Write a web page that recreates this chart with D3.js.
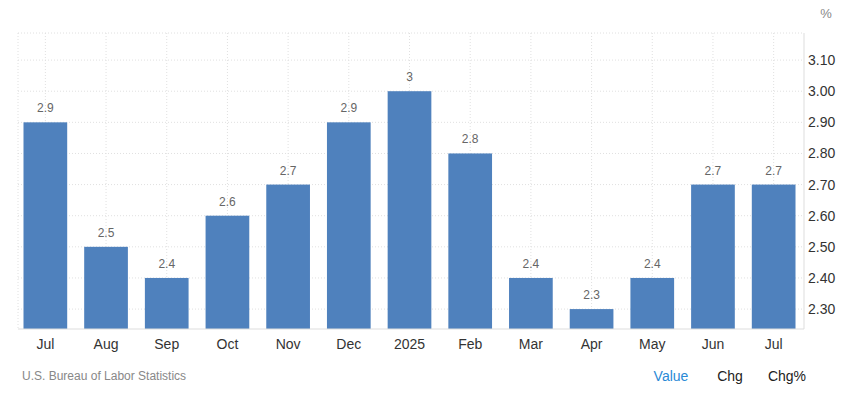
<html>
<head>
<style>
  body { margin: 0; background: #fff; font-family: Arial, "Liberation Sans", sans-serif; }
  .grid line { stroke: #e0e0e0; stroke-dasharray: 1,2; }
</style>
</head>
<body>
<svg id="chart" width="841" height="403"></svg>
<script src="https://cdn.jsdelivr.net/npm/d3@7"></script>
<script>
  // data
  let months = ["Jul", "Aug", "Sep", "Oct", "Nov", "Dec", "2025", "Feb", "Mar", "Apr", "May", "Jun", "Jul2"]
  let values = [2.9, 2.5, 2.4, 2.6, 2.7, 2.9, 3.0, 2.8, 2.4, 2.3, 2.4, 2.7, 2.7]
  let tickValues = [2.3, 2.4, 2.5, 2.6, 2.7, 2.8, 2.9, 3.0, 3.1]
  let buttons = ["Value", "Chg", "Chg%"]

  let svg = d3.select("#chart")
  let plotLeft = 15, plotRight = 804, plotTop = 33, plotBottom = 329

  let x = d3.scaleBand().domain(months).range([plotLeft, plotRight]).paddingInner(0.28).paddingOuter(0.14)
  let y = d3.scaleLinear().domain([2.236, 3.187]).range([plotBottom, plotTop])

  let grid = svg.append("g").attr("class", "grid")
  grid.selectAll("line.h").data(tickValues.concat([3.187])).enter().append("line")
    .attr("x1", 18).attr("x2", plotRight)
    .attr("y1", d => y(d)).attr("y2", d => y(d))
  grid.selectAll("line.v").data(months).enter().append("line")
    .attr("x1", d => x(d) + x.bandwidth() / 2).attr("x2", d => x(d) + x.bandwidth() / 2)
    .attr("y1", plotTop).attr("y2", plotBottom)
  grid.append("line").attr("x1", 18).attr("x2", 18).attr("y1", plotTop).attr("y2", plotBottom)

  svg.selectAll("rect.bar").data(values).enter().append("rect")
    .attr("class", "bar")
    .attr("x", (d, i) => x(months[i]))
    .attr("width", x.bandwidth())
    .attr("y", d => y(d))
    .attr("height", d => plotBottom - y(d))
    .attr("fill", "#4f81bd")

  svg.selectAll("text.val").data(values).enter().append("text")
    .attr("x", (d, i) => x(months[i]) + x.bandwidth() / 2)
    .attr("y", d => y(d) - 10)
    .attr("text-anchor", "middle")
    .attr("font-size", 12).attr("fill", "#666")
    .text(d => d)

  // axis lines
  svg.append("line").attr("x1", 18).attr("x2", plotRight).attr("y1", plotBottom).attr("y2", plotBottom).attr("stroke", "#ddd")
  svg.append("line").attr("x1", plotRight).attr("x2", plotRight).attr("y1", plotTop).attr("y2", plotBottom).attr("stroke", "#ddd")

  let xAxis = svg.append("g").attr("transform", `translate(0,${plotBottom})`)
    .call(d3.axisBottom(x).tickSize(0).tickPadding(10).tickFormat(d => d == "Jul2" ? "Jul" : d))
  xAxis.select(".domain").remove()
  xAxis.selectAll("text").attr("font-size", 14).attr("fill", "#333").attr("font-family", "Arial, Liberation Sans")

  let yAxis = svg.append("g").attr("transform", `translate(${plotRight},0)`)
    .call(d3.axisRight(y).tickValues(tickValues).tickSize(0).tickPadding(4).tickFormat(d3.format(".2f")))
  yAxis.select(".domain").remove()
  yAxis.selectAll("text").attr("font-size", 14).attr("fill", "#333").attr("font-family", "Arial, Liberation Sans")

  svg.append("text").attr("x", 826).attr("y", 18).attr("text-anchor", "middle")
    .attr("font-size", 13).attr("fill", "#888").text("%")

  svg.append("text").attr("x", 22).attr("y", 380).attr("font-size", 12).attr("fill", "#888")
    .text("U.S. Bureau of Labor Statistics")

  let bx = [671, 730, 787]
  svg.selectAll("text.btn").data(buttons).enter().append("text")
    .attr("x", (d, i) => bx[i]).attr("y", 381).attr("text-anchor", "middle")
    .attr("font-size", 14).attr("fill", (d, i) => i == 0 ? "#2a8ad6" : "#222")
    .text(d => d)
</script>
</body>
</html>
